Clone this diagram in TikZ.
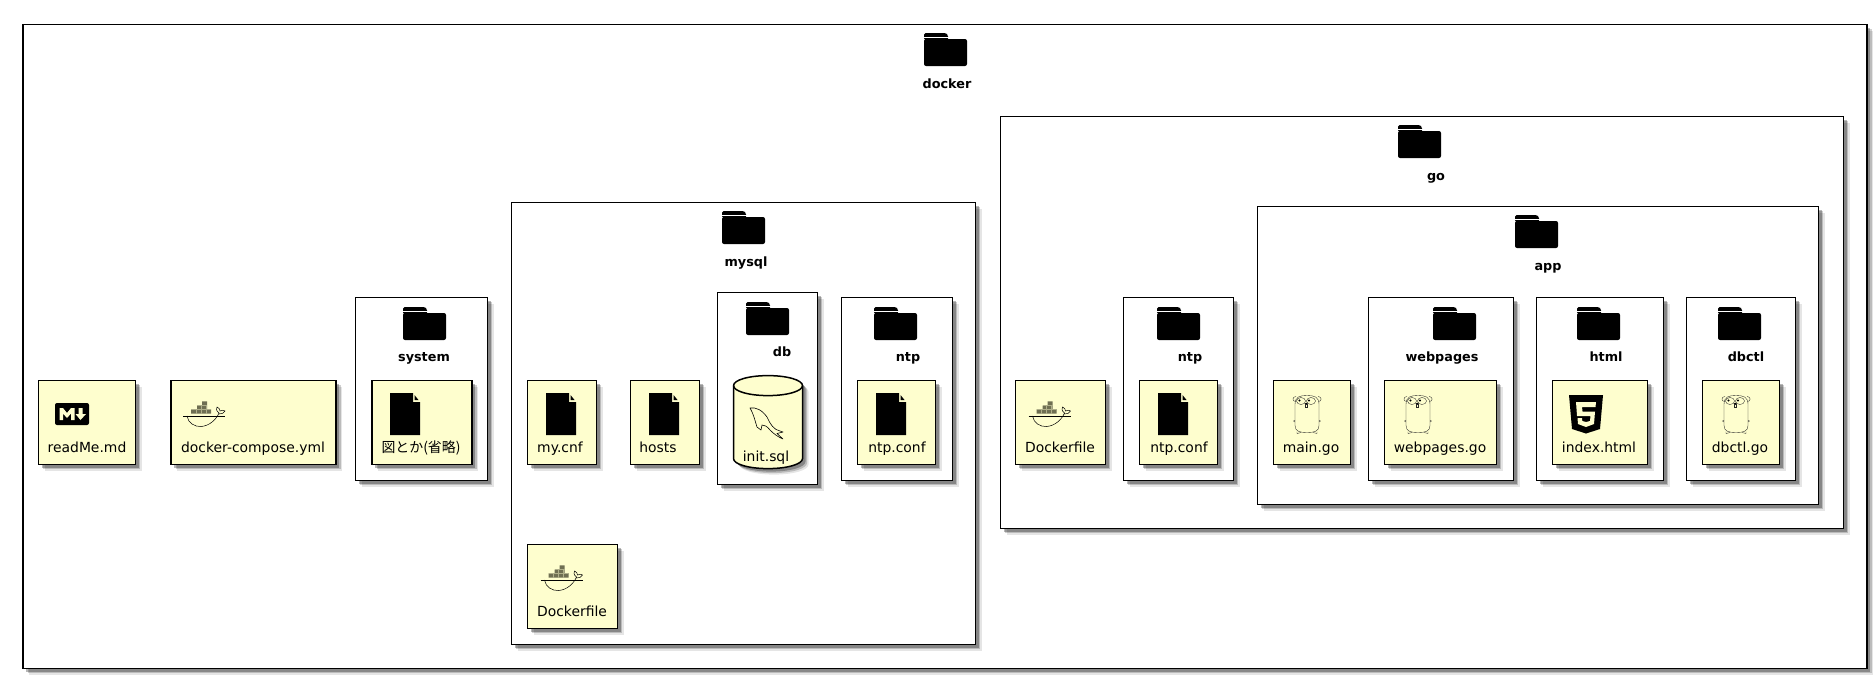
\documentclass[tikz,border=0pt]{standalone}
\usepackage{fontspec}
\setsansfont{DejaVu Sans}
\newfontfamily\cjkfont{Noto Sans CJK JP}
\usetikzlibrary{positioning,shadows}
\definecolor{notecream}{HTML}{FEFECE}
\definecolor{crategray}{HTML}{6F6F52}
\tikzset{
    softshadow/.style={
        general shadow={shadow xshift=6pt, shadow yshift=-6pt, fill=black, opacity=.10},
        general shadow={shadow xshift=4.5pt, shadow yshift=-4.5pt, fill=black, opacity=.18},
        general shadow={shadow xshift=3pt, shadow yshift=-3pt, fill=black, opacity=.28}},
    folderbox/.style={draw=black, line width=1.7pt, fill=white, anchor=north west, inner sep=0pt, outer sep=0pt, xshift=.5pt, yshift=-.6pt, softshadow},
    filebox/.style={draw=black, line width=1.7pt, fill=notecream, anchor=north west, inner sep=0pt, outer sep=0pt, xshift=.5pt, yshift=-.6pt, softshadow},
    folderlabel/.style={anchor=base, font=\sffamily\bfseries\fontsize{12.8}{15}\selectfont},
    filelabel/.style={anchor=base, font=\sffamily\fontsize{13.9}{16}\selectfont},
    foldericon/.pic={
        \fill[rounded corners=2pt] (0,6) -- (43,6) -- (43,33) -- (0,33) -- cycle;
        \fill[rounded corners=1.5pt] (0,7) -- (0,0) -- (22,0) -- (24,2) -- (24,7) -- cycle;
        \draw[white, line width=.9pt] (0,4.6) -- (24.5,4.6);
    },
    pageicon/.pic={
        \fill (0,0) -- (23,0) -- (23,9) -- (30,9) -- (30,42) -- (0,42) -- cycle;
        \fill (24.5,2) -- (28.5,7) -- (24.5,7) -- cycle;
    },
    whaleicon/.pic={
        % crates
        \fill[crategray] (8,8.3) rectangle (28,12.5) (14,4.5) rectangle (24,8.3) (19,.3) rectangle (24,4.5);
        \draw[crategray!55!notecream, line width=.25pt] (8,8.3) -- (28,8.3) (14,4.5) -- (24,4.5) (13,8.3) -- (13,12.5) (18,4.5) -- (18,12.5) (23,4.5) -- (23,12.5);
        % hull
        \draw[line width=.5pt] (0,15) -- (42,15);
        \draw[line width=.5pt] (4,15) .. controls (5,22) and (12,26) .. (18,25.5)
            .. controls (26,25) and (33,19) .. (36,12) .. controls (33,10) and (33,7) .. (34,6)
            .. controls (36,7) and (37,8) .. (37,10) .. controls (39,9) and (41,9) .. (42,10)
            .. controls (41,12) and (39,13) .. (36,13);
    },
    gophericon/.pic={
        \draw[line width=.35pt, black!85] (2,9) .. controls (2,1) and (7,0) .. (14,0)
            .. controls (21,0) and (26,1) .. (26,9) -- (26,30)
            .. controls (26,36) and (21,37) .. (14,37) .. controls (7,37) and (2,36) .. (2,30) -- cycle;
        \draw[line width=.35pt, black!85] (2.5,6) .. controls (-1,6) and (-1,1) .. (3,1) (25.5,6) .. controls (29,6) and (29,1) .. (25,1);
        \draw[line width=.35pt, black!85] (8,5.5) ellipse (4.5 and 3.5) (18,5.5) ellipse (4.5 and 3.5);
        \fill (6.5,5) circle (1.2) (16,5) circle (1.2) (13.2,8.2) ellipse (1.6 and 1);
        \draw[line width=.35pt, black!85] (12,9) rectangle (14.5,12);
        \draw[line width=.35pt, black!85] (2,25) -- (.5,25.5) -- (2,26.5) (26,25) -- (27.5,25.5) -- (26,26.5);
        \draw[line width=.35pt, black!85] (4,36) -- (4,38) -- (8,37) (24,36) -- (24,38) -- (20,37);
    },
    mdicon/.pic={
        \fill[rounded corners=2pt] (0,0) rectangle (34,22);
        \fill[notecream] (4.5,5) -- (8,5) -- (12,10) -- (16,5) -- (19.5,5) -- (19.5,17) -- (16,17) -- (16,10.5) -- (12,15) -- (8,10.5) -- (8,17) -- (4.5,17) -- cycle;
        \fill[notecream] (23.5,5) -- (27.5,5) -- (27.5,11) -- (31,11) -- (25.5,17) -- (20.5,11) -- (23.5,11) -- cycle;
    },
    htmlicon/.pic={
        \fill (0,0) -- (34,0) -- (31,34) -- (17,38.5) -- (3,34) -- cycle;
        \fill[notecream] (7,7) -- (27,7) -- (26.5,12) -- (13,12) -- (13.5,16.5) -- (26,16.5) -- (25,29) -- (17,32) -- (9,29) -- (8.5,23) -- (13,23) -- (13.3,26) -- (17,27) -- (21,26) -- (21.5,21) -- (8,21) -- cycle;
    },
    dolphinicon/.pic={
        \draw[line width=.6pt, line join=round] (0,0) .. controls (6,-1) and (12,2) .. (17,9)
            .. controls (20,16) and (24,22) .. (30,23) -- (33,24) -- (27,25.5) -- (33,31)
            .. controls (28,29) and (24,26) .. (20,22) .. controls (17,18) and (14,17) .. (12,17)
            -- (11,22) -- (7,19) .. controls (5,13) and (4,7) .. (0,0) -- cycle;
    },
    % top ellipse is 20 high, body 93 high in all
    drumicon/.pic={
        \draw[line width=1.5pt, fill=notecream, softshadow] (0,10) .. controls (0,4.5) and (15,0) .. (34.5,0)
            .. controls (54,0) and (69,4.5) .. (69,10) -- (69,83)
            .. controls (69,88.5) and (54,93) .. (34.5,93) .. controls (15,93) and (0,88.5) .. (0,83) -- cycle;
        \draw[line width=1.5pt] (0,10) .. controls (0,15.5) and (15,20) .. (34.5,20) .. controls (54,20) and (69,15.5) .. (69,10);
    },
}
\begin{document}
\begin{tikzpicture}[x=1pt, y=-1pt, font=\sffamily]
    \useasboundingbox (0,0) rectangle (1876,678);

    % docker
    \node[folderbox, minimum width=1844pt, minimum height=644pt] (docker) at (22.5,24) {};
    \pic at (924,33) {foldericon};
    \node[folderlabel] (dockerlabel) at (947,88) {docker};

    % top level files
    \node[filebox, minimum width=97pt, minimum height=84pt] (readme) at (38,380) {};
    \pic at (55,403) {mdicon};
    \node[filelabel] (readmelabel) at (87,452) {readMe.md};

    \node[filebox, minimum width=165pt, minimum height=84pt] (compose) at (170.5,380) {};
    \pic at (183,401) {whaleicon};
    \node[filelabel] (composelabel) at (253,452) {docker-compose.yml};

    % system
    \node[folderbox, minimum width=132pt, minimum height=183pt] (system) at (355,297) {};
    \pic at (403,307) {foldericon};
    \node[folderlabel] (systemlabel) at (424,361) {system};
    \node[filebox, minimum width=100pt, minimum height=84pt] (figures) at (371.5,380) {};
    \pic at (390,393) {pageicon};
    \node[filelabel] (figureslabel) at (421,452) {\cjkfont 図とか(省略)};

    % mysql
    \node[folderbox, minimum width=464pt, minimum height=442pt] (mysql) at (511,202) {};
    \pic at (722,211) {foldericon};
    \node[folderlabel] (mysqllabel) at (746,266) {mysql};
    \node[filebox, minimum width=69pt, minimum height=84pt] (mycnf) at (527,380) {};
    \pic at (546,393) {pageicon};
    \node[filelabel] (mycnflabel) at (560,452) {my.cnf};
    \node[filebox, minimum width=69pt, minimum height=84pt] (hosts) at (630,380) {};
    \pic at (649,393) {pageicon};
    \node[filelabel] (hostslabel) at (658,452) {hosts};

    \node[folderbox, minimum width=100pt, minimum height=192pt] (db) at (717,292) {};
    \pic at (746,302) {foldericon};
    \node[folderlabel] (dblabel) at (782,356) {db};
    \pic at (733.5,375.6) {drumicon};
    \pic at (750,408) {dolphinicon};
    \node[filelabel] (initsqllabel) at (766,461) {init.sql};

    \node[folderbox, minimum width=111pt, minimum height=183pt] (mysqlntp) at (841,297) {};
    \pic at (874,307) {foldericon};
    \node[folderlabel] (mysqlntplabel) at (908,361) {ntp};
    \node[filebox, minimum width=78pt, minimum height=84pt] (mysqlconf) at (857,380) {};
    \pic at (876,393) {pageicon};
    \node[filelabel] (mysqlconflabel) at (897,452) {ntp.conf};

    \node[filebox, minimum width=90pt, minimum height=84pt] (mysqldocker) at (527,544) {};
    \pic at (540.5,565) {whaleicon};
    \node[filelabel] (mysqldockerlabel) at (572,616) {Dockerfile};

    % go
    \node[folderbox, minimum width=843pt, minimum height=412pt] (go) at (1000,116) {};
    \pic at (1398,125) {foldericon};
    \node[folderlabel] (golabel) at (1436,180) {go};
    \node[filebox, minimum width=90pt, minimum height=84pt] (godocker) at (1015,380) {};
    \pic at (1028.5,401) {whaleicon};
    \node[filelabel] (godockerlabel) at (1060,452) {Dockerfile};

    \node[folderbox, minimum width=110pt, minimum height=183pt] (gontp) at (1123,297) {};
    \pic at (1157,307) {foldericon};
    \node[folderlabel] (gontplabel) at (1190,361) {ntp};
    \node[filebox, minimum width=78pt, minimum height=84pt] (goconf) at (1139,380) {};
    \pic at (1158,393) {pageicon};
    \node[filelabel] (goconflabel) at (1179,452) {ntp.conf};

    % app
    \node[folderbox, minimum width=561pt, minimum height=298pt] (app) at (1257,206) {};
    \pic at (1515,215) {foldericon};
    \node[folderlabel] (applabel) at (1548,270) {app};
    \node[filebox, minimum width=77pt, minimum height=84pt] (maingo) at (1273,380) {};
    \pic at (1293,395.5) {gophericon};
    \node[filelabel] (maingolabel) at (1311,452) {main.go};

    \node[folderbox, minimum width=145pt, minimum height=183pt] (webpages) at (1368,297) {};
    \pic at (1433,307) {foldericon};
    \node[folderlabel] (webpageslabel) at (1442,361) {webpages};
    \node[filebox, minimum width=112pt, minimum height=84pt] (webpagesgo) at (1384,380) {};
    \pic at (1404,395.5) {gophericon};
    \node[filelabel] (webpagesgolabel) at (1440,452) {webpages.go};

    \node[folderbox, minimum width=127pt, minimum height=183pt] (html) at (1536,297) {};
    \pic at (1577,307) {foldericon};
    \node[folderlabel] (htmllabel) at (1606,361) {html};
    \node[filebox, minimum width=95pt, minimum height=84pt] (indexhtml) at (1552,380) {};
    \pic at (1569,395) {htmlicon};
    \node[filelabel] (indexhtmllabel) at (1599,452) {index.html};

    \node[folderbox, minimum width=109pt, minimum height=183pt] (dbctl) at (1686,297) {};
    \pic at (1718,307) {foldericon};
    \node[folderlabel] (dbctllabel) at (1746,361) {dbctl};
    \node[filebox, minimum width=77pt, minimum height=84pt] (dbctlgo) at (1702,380) {};
    \pic at (1722,395.5) {gophericon};
    \node[filelabel] (dbctlgolabel) at (1740,452) {dbctl.go};
\end{tikzpicture}
\end{document}
